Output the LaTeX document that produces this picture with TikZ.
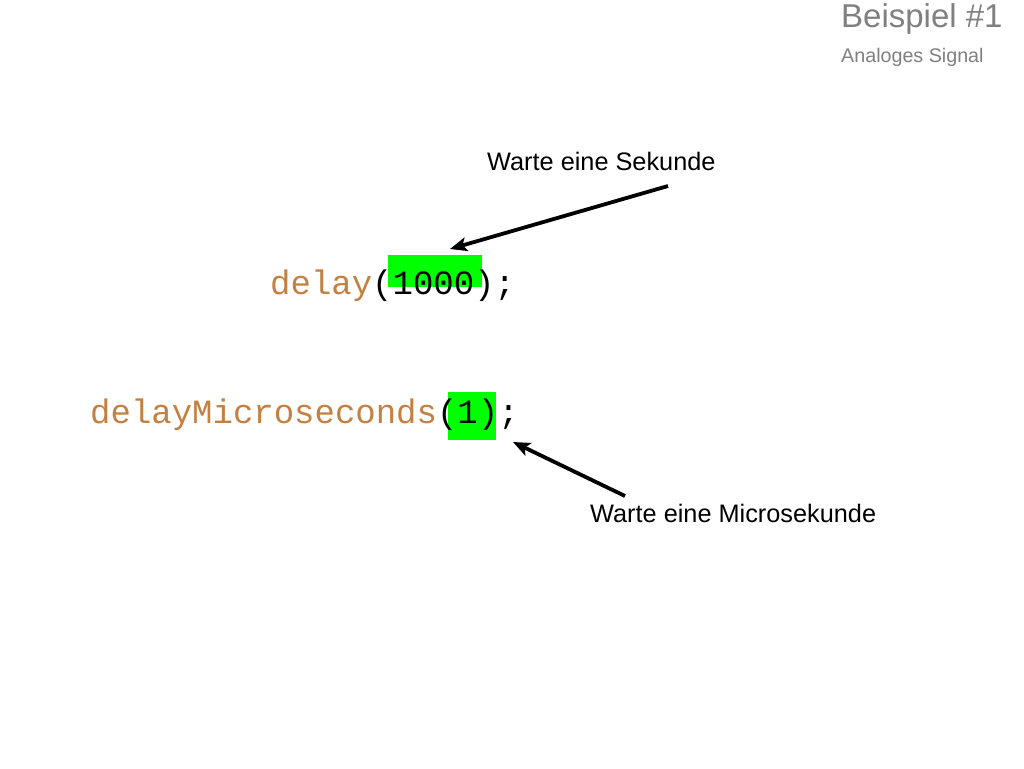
\documentclass[tikz,border=0pt]{standalone}
\usepackage{fontspec}
\setmainfont{Liberation Sans}
\newfontfamily\codefont{Liberation Mono}
\usetikzlibrary{arrows.meta,calc}
\definecolor{codebrown}{RGB}{196,128,64}
\definecolor{hlgreen}{RGB}{0,255,0}
\definecolor{titlegray}{RGB}{128,128,128}
\tikzset{
  code/.style={inner sep=0pt,anchor=base west,font=\codefont\fontsize{34}{40}\selectfont},
  lbl/.style={inner sep=0pt,anchor=base west,font=\fontsize{25.3}{30}\selectfont},
  hl/.style={fill=hlgreen,draw=none,inner sep=0pt,anchor=north west},
  arr/.style={line width=3.8pt,-{Stealth[length=17pt,width=14pt,inset=4pt]}},
}
\begin{document}
\begin{tikzpicture}[x=1pt,y=-1pt]
\useasboundingbox[fill=white] (0,0) rectangle (1024,768);
% title
\node[inner sep=0pt,anchor=base west,text=titlegray,font=\fontsize{33}{38}\selectfont] (title) at (841,28) {Beispiel \#1};
\node[inner sep=0pt,anchor=base west,text=titlegray,font=\fontsize{19.7}{24}\selectfont] (subtitle) at (841,63) {Analoges Signal};
% highlights
\node[hl,minimum width=94pt,minimum height=32pt] (hl1) at (388,255) {};
\node[hl,minimum width=48pt,minimum height=48pt] (hl2) at (448,392) {};
% code
\node[code] (c1) at (270,294) {\textcolor{codebrown}{delay}(1000);};
\node[code] (c2) at (90,423) {\textcolor{codebrown}{delayMicroseconds}(1);};
% labels
\node[lbl] (lab1) at (487,170) {Warte eine Sekunde};
\node[lbl] (lab2) at (590,522) {Warte eine Microsekunde};
% arrows
\coordinate (a1s) at (668,186);
\coordinate (a1e) at (450,249);
\coordinate (a2s) at (625,496);
\coordinate (a2e) at (513,442);
\draw[arr] (a1s) -- (a1e);
\draw[arr] (a2s) -- (a2e);
\end{tikzpicture}
\end{document}
